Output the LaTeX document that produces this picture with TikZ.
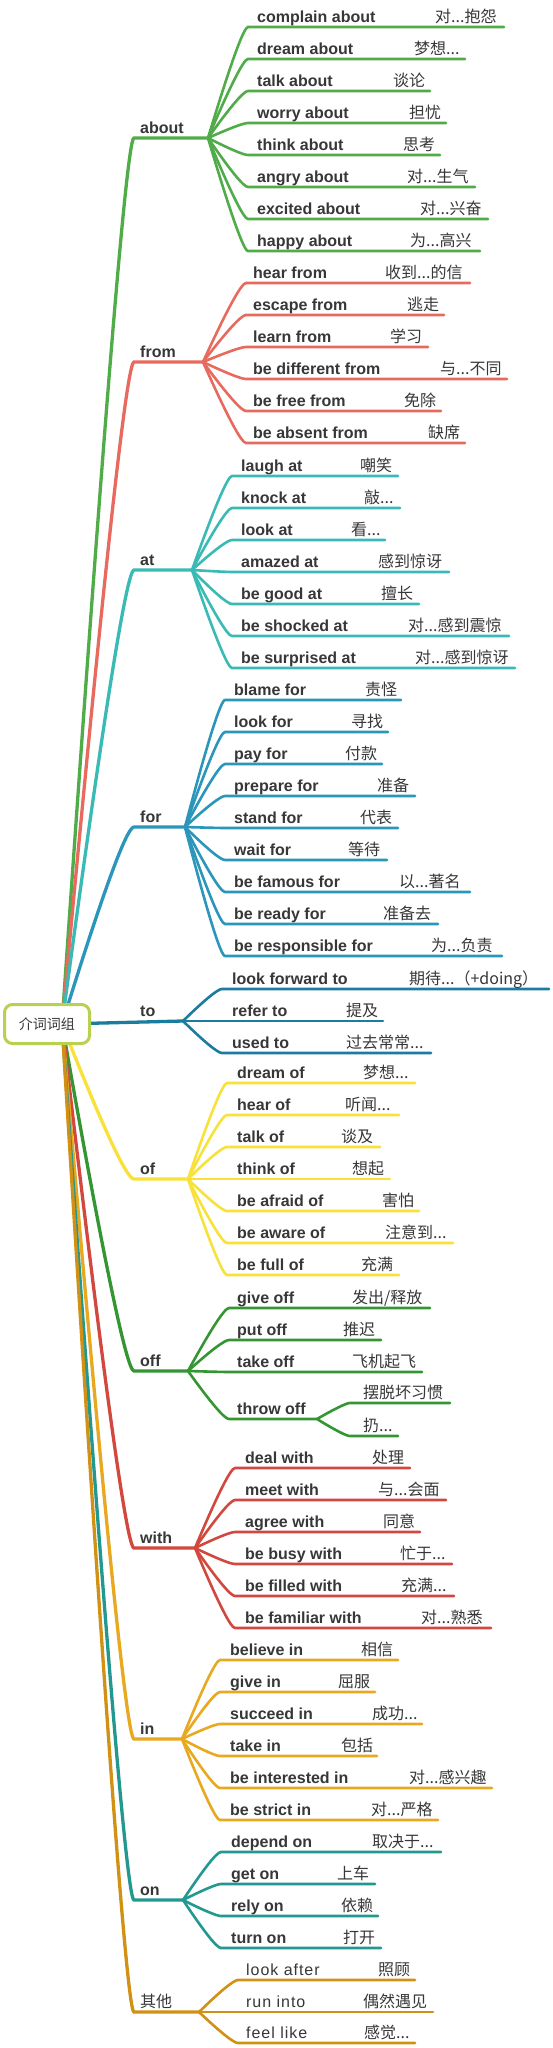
\documentclass[tikz,border=0pt]{standalone}
\usepackage{fontspec}
\setmainfont{Liberation Sans}
\newfontfamily\cjk{Noto Sans CJK SC}
\newfontfamily\spacedfont[LetterSpace=6]{Liberation Sans}
\usetikzlibrary{calc}
\definecolor{cAbout}{RGB}{80,172,72}
\definecolor{cFrom}{RGB}{232,106,94}
\definecolor{cAt}{RGB}{58,186,180}
\definecolor{cFor}{RGB}{44,150,186}
\definecolor{cTo}{RGB}{26,124,158}
\definecolor{cOf}{RGB}{248,226,58}
\definecolor{cOff}{RGB}{52,150,50}
\definecolor{cWith}{RGB}{210,72,62}
\definecolor{cIn}{RGB}{232,168,32}
\definecolor{cOn}{RGB}{34,152,144}
\definecolor{cOther}{RGB}{208,145,20}
\definecolor{cRoot}{RGB}{184,210,80}
\definecolor{txt}{RGB}{55,55,55}
\def\enfont{\bfseries}
% main branch: #1 name, #2 y, #3 branch x, #4 label, #5 colour
\newcommand\mkbranch[5]{%
  \coordinate (#1) at (#3,#2);
  \coordinate (#1s) at (134,#2);
  \coordinate (#1c) at (123,#2);
  \draw[mainline,draw=#5] (rootc) .. controls ($(rootc)!2/3!(#1c)$) and ($(#1s)!2/3!(#1c)$) .. (#1s) -- (#1);
  \node[entext] (#1t) at (140,{#2-5}) {#4};
}
% leaf: #1 id, #2 y, #3 end x, #4 english, #5 chinese x, #6 chinese
\newcommand\mkleaf[6]{%
  \coordinate (#1s) at (\bxc,#2);
  \coordinate (#1c) at ({\bx+0.84*(\bxc-\bx)},#2);
  \coordinate (#1e) at (#3,#2);
  \draw[kidline,draw=\bcol] (\bn) .. controls ($(\bn)!2/3!(#1c)$) and ($(#1s)!2/3!(#1c)$) .. (#1s) -- (#1e);
  \node[entext] (#1t) at (\btx,{#2-5}) {#4};
  \node[cntext] (#1z) at (#5,{#2-5}) {#6};
}
\begin{document}
\begin{tikzpicture}[x=1pt,y=-1pt,
  mainline/.style={line width=3.3pt,line cap=round},
  kidline/.style={line width=2.6pt,line cap=round},
  entext/.style={anchor=base west,inner sep=0pt,text=txt,font=\fontsize{16}{19}\selectfont\enfont},
  cntext/.style={anchor=base west,inner sep=0pt,text=txt,font=\fontsize{16}{19}\selectfont\cjk}]
\useasboundingbox (0,0) rectangle (552,2048);
\fill[white] (0,0) rectangle (552,2048);
\coordinate (rootc) at (62,1024);

% main branches
\mkbranch{B1}{138}{208}{about}{cAbout}
\mkbranch{B2}{362}{203}{from}{cFrom}
\mkbranch{B3}{570}{192}{at}{cAt}
\mkbranch{B4}{827}{185}{for}{cFor}
\coordinate (B5) at (183,1021);
\draw[mainline,draw=cTo] (rootc) -- (B5);
\node[entext] (B5t) at (140,1016) {to};
\mkbranch{B6}{1179}{188}{of}{cOf}
\mkbranch{B7}{1371}{188}{off}{cOff}
\mkbranch{B8}{1548}{195}{with}{cWith}
\mkbranch{B9}{1739}{182}{in}{cIn}
\mkbranch{B10}{1900}{183}{on}{cOn}
\mkbranch{B11}{2012}{199}{{\cjk\mdseries 其他}}{cOther}

% about
\def\bn{B1}\def\bx{208}\def\bxc{248}\def\btx{257}\def\bcol{cAbout}
\mkleaf{a1}{27}{504}{complain about}{435}{对...抱怨}
\mkleaf{a2}{59}{465}{dream about}{414}{梦想...}
\mkleaf{a3}{91}{430}{talk about}{393}{谈论}
\mkleaf{a4}{123}{446}{worry about}{409}{担忧}
\mkleaf{a5}{155}{440}{think about}{403}{思考}
\mkleaf{a6}{187}{475}{angry about}{407}{对...生气}
\mkleaf{a7}{219}{488}{excited about}{420}{对...兴奋}
\mkleaf{a8}{251}{480}{happy about}{410}{为...高兴}

% from
\def\bn{B2}\def\bx{203}\def\bxc{246}\def\btx{253}\def\bcol{cFrom}
\mkleaf{f1}{283}{470}{hear from}{385}{收到...的信}
\mkleaf{f2}{315}{444}{escape from}{407}{逃走}
\mkleaf{f3}{347}{428}{learn from}{390}{学习}
\mkleaf{f4}{379}{507}{be different from}{440}{与...不同}
\mkleaf{f5}{411}{441}{be free from}{404}{免除}
\mkleaf{f6}{443}{465}{be absent from}{428}{缺席}

% at
\def\bn{B3}\def\bx{192}\def\bxc{232}\def\btx{241}\def\bcol{cAt}
\mkleaf{t1}{476}{398}{laugh at}{360}{嘲笑}
\mkleaf{t2}{508}{400}{knock at}{364}{敲...}
\mkleaf{t3}{540}{385}{look at}{351}{看...}
\mkleaf{t4}{572}{449}{amazed at}{378}{感到惊讶}
\mkleaf{t5}{604}{419}{be good at}{381}{擅长}
\mkleaf{t6}{636}{509}{be shocked at}{408}{对...感到震惊}
\mkleaf{t7}{668}{515}{be surprised at}{415}{对...感到惊讶}

% for
\def\bn{B4}\def\bx{185}\def\bxc{225}\def\btx{234}\def\bcol{cFor}
\mkleaf{r1}{700}{401}{blame for}{365}{责怪}
\mkleaf{r2}{732}{388}{look for}{351}{寻找}
\mkleaf{r3}{764}{382}{pay for}{345}{付款}
\mkleaf{r4}{796}{415}{prepare for}{377}{准备}
\mkleaf{r5}{828}{398}{stand for}{360}{代表}
\mkleaf{r6}{860}{387}{wait for}{348}{等待}
\mkleaf{r7}{892}{470}{be famous for}{399}{以...著名}
\mkleaf{r8}{924}{438}{be ready for}{383}{准备去}
\mkleaf{r9}{956}{502}{be responsible for}{431}{为...负责}

% to
\def\bn{B5}\def\bx{183}\def\bxc{222}\def\btx{232}\def\bcol{cTo}
\mkleaf{o1}{989}{549}{look forward to}{409}{期待...（+doing）}
\mkleaf{o2}{1021}{383}{refer to}{346}{提及}
\mkleaf{o3}{1053}{431}{used to}{346}{过去常常...}

% of
\def\bn{B6}\def\bx{188}\def\bxc{227}\def\btx{237}\def\bcol{cOf}
\mkleaf{p1}{1083}{415}{dream of}{363}{梦想...}
\mkleaf{p2}{1115}{399}{hear of}{345}{听闻...}
\mkleaf{p3}{1147}{380}{talk of}{341}{谈及}
\mkleaf{p4}{1179}{390}{think of}{352}{想起}
\mkleaf{p5}{1211}{419}{be afraid of}{382}{害怕}
\mkleaf{p6}{1243}{453}{be aware of}{385}{注意到...}
\mkleaf{p7}{1275}{399}{be full of}{361}{充满}

% off
\def\bn{B7}\def\bx{188}\def\bxc{229}\def\btx{237}\def\bcol{cOff}
\mkleaf{q1}{1308}{430}{give off}{352}{发出/释放}
\mkleaf{q2}{1340}{381}{put off}{343}{推迟}
\mkleaf{q3}{1372}{422}{take off}{352}{飞机起飞}
\coordinate (q4s) at (229,1419);
\coordinate (q4c) at ({188+0.84*41},1419);
\coordinate (T) at (317,1419);
\draw[kidline,draw=cOff] (B7) .. controls ($(B7)!2/3!(q4c)$) and ($(q4s)!2/3!(q4c)$) .. (q4s) -- (T);
\node[entext] (q4t) at (237,1414) {throw off};
\coordinate (s1s) at (350,1403);
\coordinate (s1c) at ({317+0.84*33},1403);
\coordinate (s1e) at (450,1403);
\draw[kidline,draw=cOff] (T) .. controls ($(T)!2/3!(s1c)$) and ($(s1s)!2/3!(s1c)$) .. (s1s) -- (s1e);
\node[cntext] (s1z) at (363,1398) {摆脱坏习惯};
\coordinate (s2s) at (350,1436);
\coordinate (s2c) at ({317+0.84*33},1436);
\coordinate (s2e) at (398,1436);
\draw[kidline,draw=cOff] (T) .. controls ($(T)!2/3!(s2c)$) and ($(s2s)!2/3!(s2c)$) .. (s2s) -- (s2e);
\node[cntext] (s2z) at (363,1431) {扔...};

% with
\def\bn{B8}\def\bx{195}\def\bxc{235}\def\btx{245}\def\bcol{cWith}
\mkleaf{w1}{1468}{410}{deal with}{372}{处理}
\mkleaf{w2}{1500}{446}{meet with}{378}{与...会面}
\mkleaf{w3}{1532}{420}{agree with}{383}{同意}
\mkleaf{w4}{1564}{452}{be busy with}{400}{忙于...}
\mkleaf{w5}{1596}{454}{be filled with}{401}{充满...}
\mkleaf{w6}{1628}{491}{be familiar with}{421}{对...熟悉}

% in
\def\bn{B9}\def\bx{182}\def\bxc{220}\def\btx{230}\def\bcol{cIn}
\mkleaf{i1}{1660}{398}{believe in}{361}{相信}
\mkleaf{i2}{1692}{375}{give in}{338}{屈服}
\mkleaf{i3}{1724}{422}{succeed in}{372}{成功...}
\mkleaf{i4}{1756}{377}{take in}{341}{包括}
\mkleaf{i5}{1788}{492}{be interested in}{409}{对...感兴趣}
\mkleaf{i6}{1820}{438}{be strict in}{371}{对...严格}

% on
\def\bn{B10}\def\bx{183}\def\bxc{221}\def\btx{231}\def\bcol{cOn}
\mkleaf{n1}{1852}{441}{depend on}{372}{取决于...}
\mkleaf{n2}{1884}{375}{get on}{337}{上车}
\mkleaf{n3}{1916}{378}{rely on}{341}{依赖}
\mkleaf{n4}{1948}{381}{turn on}{343}{打开}

% other
\def\enfont{\spacedfont\mdseries}
\def\bn{B11}\def\bx{199}\def\bxc{238}\def\btx{246}\def\bcol{cOther}
\mkleaf{x1}{1980}{415}{look after}{378}{照顾}
\mkleaf{x2}{2012}{433}{run into}{363}{偶然遇见}
\mkleaf{x3}{2043}{415}{feel like}{364}{感觉...}

% root
\node[draw=cRoot,line width=3pt,rounded corners=8pt,fill=white,
  minimum width=85pt,minimum height=39pt,inner sep=0pt,
  font=\fontsize{14}{16}\selectfont\cjk,text=txt] (root) at (47,1024) {介词词组};
\end{tikzpicture}
\end{document}
